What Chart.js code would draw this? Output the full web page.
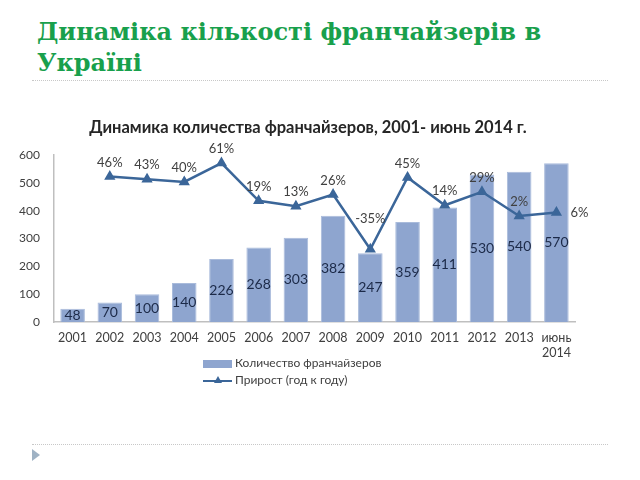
<!DOCTYPE html>
<html>
<head>
<meta charset="utf-8">
<script src="https://cdn.jsdelivr.net/npm/chart.js@4"></script>
<style>
  body { margin: 0; background: #fff; width: 640px; height: 480px; overflow: hidden; position: relative; font-family: Lato, "Open Sans", sans-serif; }
  #pageTitle { position: absolute; left: 37px; top: 16px; width: 560px; margin: 0; font-family: "DejaVu Serif", serif; font-weight: bold; font-size: 24px; line-height: 31px; color: #18a04c; }
  .dots { position: absolute; left: 32px; width: 576px; border-top: 1px dotted #c8c8c8; }
  #bullet { position: absolute; left: 32px; top: 449px; width: 0; height: 0; border-top: 6px solid transparent; border-bottom: 6px solid transparent; border-left: 8px solid #9fb2c4; }
  #chartTitle { position: absolute; left: 0; top: 117px; width: 616px; text-align: center; font-weight: bold; font-size: 16.5px; line-height: 20px; color: #262626; }
  #chartBox { position: absolute; left: 0; top: 111px; width: 600px; height: 257px; }
  #legend { position: absolute; left: 203px; top: 354px; font-size: 12px; color: #404040; }
  #legend div { height: 17px; line-height: 17px; }
  .swBar { display: inline-block; width: 29px; height: 8px; background: #8ea5cf; vertical-align: middle; margin-right: 3px; }
  .swLine { display: inline-block; width: 29px; height: 2px; background: #3b6699; vertical-align: middle; margin-right: 3px; position: relative; }
  .swLine i { position: absolute; left: 11px; top: -4px; border-left: 4px solid transparent; border-right: 4px solid transparent; border-bottom: 7px solid #3b6699; }
</style>
</head>
<body>
<h1 id="pageTitle">Динаміка кількості франчайзерів в Україні</h1>
<div class="dots" style="top:80px"></div>
<div id="chartBox"><canvas id="franchiseChart"></canvas></div>
<div id="chartTitle">Динамика количества франчайзеров, 2001- июнь 2014 г.</div>
<div id="legend">
  <div><span class="swBar"></span>Количество франчайзеров</div>
  <div><span class="swLine"><i></i></span>Прирост (год к году)</div>
</div>
<div class="dots" style="top:444px"></div>
<div id="bullet"></div>

<script>
const years = ['2001', '2002', '2003', '2004', '2005', '2006', '2007', '2008', '2009', '2010', '2011', '2012', '2013', ['июнь', '2014']];
const franchisors = [48, 70, 100, 140, 226, 268, 303, 382, 247, 359, 411, 530, 540, 570];
const growthPct = [null, 46, 43, 40, 61, 19, 13, 26, -35, 45, 14, 29, 2, 6];
const yTicks = [0, 100, 200, 300, 400, 500, 600];

// value labels drawn by hand, no datalabels plugin available
const valueLabels = {
    id: 'valueLabels',
    afterDatasetsDraw(chart) {
        const ctx = chart.ctx;
        ctx.save();
        ctx.textAlign = 'center';
        ctx.textBaseline = 'middle';

        // dataset 1 = bars
        ctx.font = '14px Lato, "Open Sans", sans-serif';
        ctx.fillStyle = '#1c2a48';
        chart.getDatasetMeta(1).data.forEach(function(bar, i) {
            let mid = (bar.y + bar.base) / 2;
            ctx.fillText(franchisors[i], bar.x, mid);
        });

        // dataset 0 = line
        ctx.font = '13px Lato, "Open Sans", sans-serif';
        ctx.fillStyle = '#404040';
        chart.getDatasetMeta(0).data.forEach(function(pt, i) {
            let v = growthPct[i];
            if (v === null) return;
            let txt = v + '%';
            if (i === growthPct.length - 1) {
                ctx.textAlign = 'left';
                ctx.fillText(txt, pt.x + 14, pt.y);
                ctx.textAlign = 'center';
            } else if (v < 0) {
                ctx.fillText(txt, pt.x, pt.y - 30);
            } else {
                ctx.fillText(txt, pt.x, pt.y - 14);
            }
        });
        ctx.restore();
    }
};

const ctx = document.getElementById('franchiseChart').getContext('2d');
new Chart(ctx, {
    data: {
        labels: years,
        datasets: [{
            type: 'line',
            label: 'Прирост (год к году)',
            data: growthPct,
            yAxisID: 'y1',
            borderColor: '#3b6699',
            backgroundColor: '#3b6699',
            borderWidth: 2.5,
            pointStyle: 'triangle',
            pointRadius: 4,
            tension: 0,
            spanGaps: false,
            order: 0
        }, {
            type: 'bar',
            label: 'Количество франчайзеров',
            data: franchisors,
            yAxisID: 'y',
            backgroundColor: '#8ea5cf',
            borderColor: '#a9bbdb',
            borderWidth: 1,
            categoryPercentage: 1,
            barPercentage: 0.66,
            order: 1
        }]
    },
    options: {
        responsive: true,
        maintainAspectRatio: false,
        animation: false,
        layout: { padding: { left: 0, right: 25, top: 44, bottom: 0 } },
        plugins: {
            legend: { display: false },
            tooltip: { enabled: false },
            title: { display: false }
        },
        scales: {
            x: {
                grid: { display: false, drawTicks: false },
                border: { color: '#bfbfbf', width: 1.5 },
                ticks: { color: '#404040', font: { family: 'Lato, "Open Sans", sans-serif', size: 12.5 }, padding: 8, maxRotation: 0, autoSkip: false }
            },
            y: {
                min: 0,
                max: 600,
                afterBuildTicks: function(axis) {
                    axis.ticks = yTicks.map(function(v) { return { value: v }; });
                },
                afterFit: function(axis) { axis.width = 54; },
                grid: { display: false, drawTicks: false },
                border: { color: '#bfbfbf', width: 1.5 },
                ticks: { color: '#404040', font: { family: 'Lato, "Open Sans", sans-serif', size: 12 }, padding: 14 }
            },
            y1: {
                display: false,
                min: -116,
                max: 70
            }
        }
    },
    plugins: [valueLabels]
});
</script>
</body>
</html>
